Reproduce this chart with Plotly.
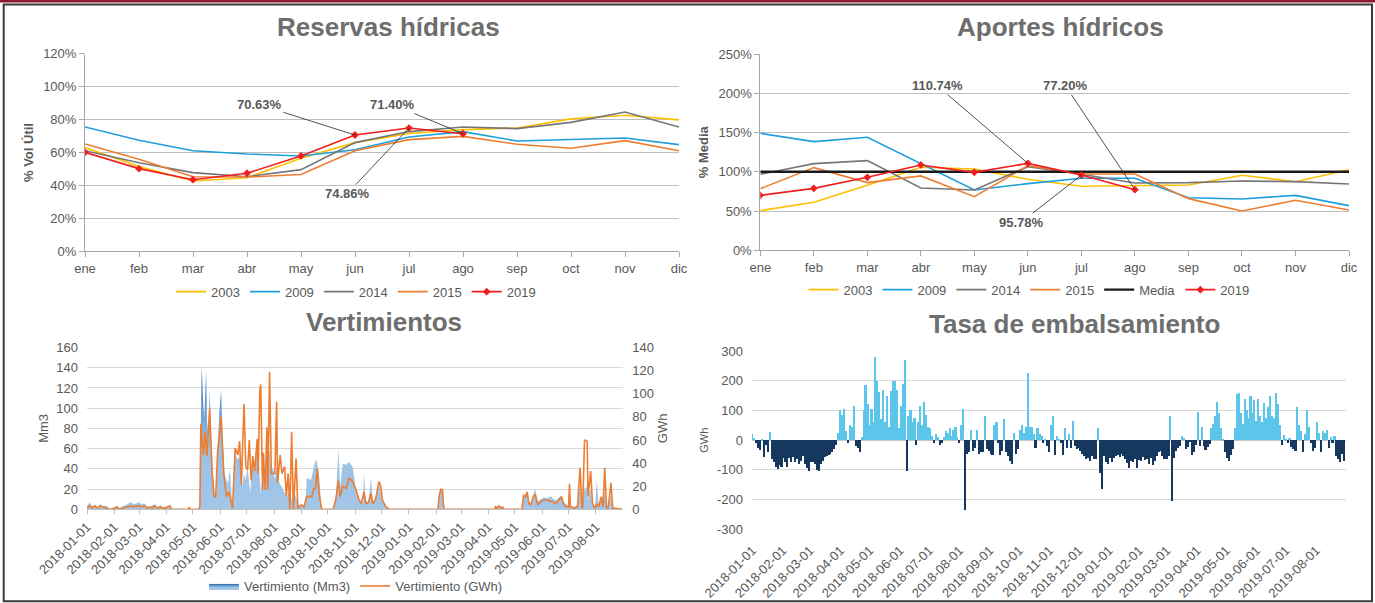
import plotly.graph_objects as go
import pandas as pd

W, H = 1375, 603
FONT = "Liberation Sans, Arial, sans-serif"
TXT = "#595959"
TITLE_C = "#6E6E6E"

# ---------------- data ----------------
meses = ["ene", "feb", "mar", "abr", "may", "jun", "jul", "ago", "sep", "oct", "nov", "dic"]

# Reservas hídricas (% Vol Útil)
res_2003 = [63.0, 51.5, 42.7, 44.7, 56.5, 66.0, 71.5, 73.9, 74.9, 80.4, 82.6, 79.8]
res_2009 = [75.5, 67.4, 61.1, 59.1, 57.9, 61.7, 69.4, 72.7, 67.0, 67.8, 68.8, 64.8]
res_2014 = [61.1, 53.8, 47.8, 45.3, 49.6, 66.0, 72.7, 75.5, 74.5, 78.3, 84.6, 75.5]
res_2015 = [65.2, 55.9, 45.3, 45.1, 46.6, 61.1, 67.8, 69.8, 65.0, 62.6, 67.2, 61.1]
res_2019 = [60.1, 50.2, 43.5, 47.4, 57.9, 70.63, 74.86, 71.40]

# Aportes hídricos (% Media)
apo_2003 = [50.5, 61.1, 82.8, 105.7, 103.6, 90.4, 81.5, 82.3, 83.2, 95.5, 87.4, 102.7]
apo_2009 = [149.0, 138.4, 143.9, 110.8, 76.8, 84.9, 91.7, 91.7, 67.0, 65.4, 70.0, 56.9]
apo_2014 = [96.8, 110.4, 114.2, 79.4, 76.8, 106.5, 96.8, 85.7, 86.2, 88.3, 87.4, 84.5]
apo_2015 = [78.5, 105.3, 86.2, 94.7, 68.3, 107.8, 97.2, 97.2, 65.8, 50.1, 63.7, 51.4]
apo_media = [100, 100, 100, 100, 100, 100, 100, 100, 100, 100, 100, 100]
apo_2019 = [70.0, 78.9, 93.0, 108.7, 99.3, 110.74, 95.78, 77.20]

# Vertimiento (Mm3): (fecha, valor)
vert_mm3_pts = [
    ("2018-01-01", 3), ("2018-01-04", 7), ("2018-01-07", 3), ("2018-01-10", 4), ("2018-01-13", 2),
    ("2018-01-16", 5), ("2018-01-19", 3), ("2018-01-23", 4), ("2018-01-26", 1), ("2018-01-29", 1),
    ("2018-02-01", 2), ("2018-02-04", 3), ("2018-02-07", 1), ("2018-02-10", 3), ("2018-02-14", 4),
    ("2018-02-17", 6), ("2018-02-20", 7), ("2018-02-23", 5), ("2018-02-26", 6),
    ("2018-03-01", 7), ("2018-03-04", 5), ("2018-03-07", 6), ("2018-03-10", 3), ("2018-03-13", 2),
    ("2018-03-16", 4), ("2018-03-19", 5), ("2018-03-22", 2), ("2018-03-25", 4), ("2018-03-28", 2),
    ("2018-03-31", 3), ("2018-04-03", 4), ("2018-04-05", 4), ("2018-04-07", 0), ("2018-04-26", 0),
    ("2018-04-27", 2), ("2018-04-28", 0), ("2018-05-08", 0), ("2018-05-09", 5), ("2018-05-10", 82),
    ("2018-05-11", 142), ("2018-05-13", 101), ("2018-05-14", 91), ("2018-05-16", 137), ("2018-05-17", 88),
    ("2018-05-19", 68), ("2018-05-20", 118), ("2018-05-22", 68), ("2018-05-23", 42), ("2018-05-25", 22),
    ("2018-05-26", 12), ("2018-05-28", 16), ("2018-05-29", 58), ("2018-05-31", 95), ("2018-06-02", 118),
    ("2018-06-04", 68), ("2018-06-06", 35), ("2018-06-08", 29), ("2018-06-10", 26), ("2018-06-12", 40),
    ("2018-06-14", 12), ("2018-06-16", 4), ("2018-06-18", 58), ("2018-06-20", 49), ("2018-06-22", 52),
    ("2018-06-25", 42), ("2018-06-26", 22), ("2018-06-28", 35), ("2018-06-30", 29), ("2018-07-02", 42),
    ("2018-07-05", 16), ("2018-07-07", 39), ("2018-07-10", 45), ("2018-07-13", 60), ("2018-07-15", 42),
    ("2018-07-17", 16), ("2018-07-20", 35), ("2018-07-22", 22), ("2018-07-24", 49), ("2018-07-27", 58),
    ("2018-07-29", 35), ("2018-07-31", 42), ("2018-08-02", 29), ("2018-08-04", 42), ("2018-08-07", 26),
    ("2018-08-10", 22), ("2018-08-13", 16), ("2018-08-16", 12), ("2018-08-19", 19), ("2018-08-21", 9),
    ("2018-08-24", 16), ("2018-08-27", 9), ("2018-08-30", 4), ("2018-09-03", 3), ("2018-09-06", 9),
    ("2018-09-07", 31), ("2018-09-12", 29), ("2018-09-16", 45), ("2018-09-18", 49), ("2018-09-21", 35),
    ("2018-09-23", 9), ("2018-09-24", 0), ("2018-10-07", 0), ("2018-10-10", 9), ("2018-10-13", 60),
    ("2018-10-15", 22), ("2018-10-18", 45), ("2018-10-22", 44), ("2018-10-25", 47), ("2018-10-29", 42),
    ("2018-11-02", 19), ("2018-11-06", 9), ("2018-11-10", 6), ("2018-11-11", 37), ("2018-11-13", 9),
    ("2018-11-16", 6), ("2018-11-19", 32), ("2018-11-21", 6), ("2018-11-24", 12), ("2018-11-26", 19),
    ("2018-11-28", 26), ("2018-11-30", 16), ("2018-12-02", 8), ("2018-12-06", 3), ("2018-12-10", 0),
    ("2019-01-02", 0), ("2019-01-03", 1), ("2019-01-04", 0), ("2019-02-03", 0), ("2019-02-04", 12),
    ("2019-02-06", 21), ("2019-02-08", 18), ("2019-02-09", 5), ("2019-02-10", 0), ("2019-04-08", 0),
    ("2019-04-09", 4), ("2019-04-11", 2), ("2019-04-13", 4), ("2019-04-15", 2), ("2019-04-17", 3),
    ("2019-04-19", 0), ("2019-05-09", 0), ("2019-05-11", 14), ("2019-05-13", 12), ("2019-05-15", 16),
    ("2019-05-17", 8), ("2019-05-19", 6), ("2019-05-22", 15), ("2019-05-24", 20), ("2019-05-27", 8),
    ("2019-05-31", 10), ("2019-06-03", 12), ("2019-06-07", 11), ("2019-06-11", 13), ("2019-06-14", 10),
    ("2019-06-17", 9), ("2019-06-20", 12), ("2019-06-23", 13), ("2019-06-25", 8), ("2019-06-28", 5),
    ("2019-07-01", 4), ("2019-07-02", 18), ("2019-07-03", 4), ("2019-07-05", 3), ("2019-07-07", 2),
    ("2019-07-11", 4), ("2019-07-14", 25), ("2019-07-16", 4), ("2019-07-17", 3), ("2019-07-19", 22),
    ("2019-07-20", 20), ("2019-07-22", 24), ("2019-07-23", 8), ("2019-07-25", 20), ("2019-07-26", 18),
    ("2019-07-28", 4), ("2019-07-31", 2), ("2019-08-02", 29), ("2019-08-04", 5), ("2019-08-07", 12),
    ("2019-08-09", 3), ("2019-08-11", 18), ("2019-08-13", 2), ("2019-08-15", 3), ("2019-08-18", 15),
    ("2019-08-20", 2), ("2019-08-31", 0),
]

# Vertimiento (GWh): (fecha, valor)
vert_gwh_pts = [
    ("2018-01-01", 1), ("2018-01-04", 3), ("2018-01-07", 1), ("2018-01-10", 3), ("2018-01-13", 1),
    ("2018-01-16", 3), ("2018-01-19", 2), ("2018-01-23", 1), ("2018-01-26", 0), ("2018-01-29", 0),
    ("2018-02-01", 1), ("2018-02-04", 2), ("2018-02-07", 0), ("2018-02-10", 1), ("2018-02-14", 2),
    ("2018-02-17", 2), ("2018-02-20", 3), ("2018-02-23", 2), ("2018-02-26", 3),
    ("2018-03-01", 3), ("2018-03-04", 2), ("2018-03-07", 3), ("2018-03-10", 1), ("2018-03-13", 2),
    ("2018-03-16", 1), ("2018-03-19", 3), ("2018-03-22", 1), ("2018-03-25", 2), ("2018-03-28", 1),
    ("2018-03-31", 1), ("2018-04-03", 2), ("2018-04-05", 3), ("2018-04-07", 0), ("2018-04-26", 0),
    ("2018-04-27", 2), ("2018-04-28", 0), ("2018-05-08", 0), ("2018-05-09", 3), ("2018-05-10", 74),
    ("2018-05-13", 47), ("2018-05-15", 67), ("2018-05-17", 46), ("2018-05-20", 87), ("2018-05-23", 31),
    ("2018-05-25", 11), ("2018-05-27", 11), ("2018-05-29", 49), ("2018-06-02", 80), ("2018-06-05", 31),
    ("2018-06-08", 11), ("2018-06-11", 15), ("2018-06-13", 9), ("2018-06-15", 1), ("2018-06-18", 53),
    ("2018-06-21", 47), ("2018-06-23", 59), ("2018-06-25", 21), ("2018-06-28", 91), ("2018-06-30", 37),
    ("2018-07-02", 34), ("2018-07-04", 60), ("2018-07-06", 25), ("2018-07-08", 46), ("2018-07-10", 33),
    ("2018-07-13", 61), ("2018-07-14", 31), ("2018-07-16", 104), ("2018-07-17", 108), ("2018-07-19", 17),
    ("2018-07-20", 49), ("2018-07-22", 17), ("2018-07-24", 71), ("2018-07-25", 17), ("2018-07-27", 119),
    ("2018-07-29", 31), ("2018-07-31", 31), ("2018-08-02", 31), ("2018-08-04", 93), ("2018-08-05", 23),
    ("2018-08-08", 47), ("2018-08-10", 31), ("2018-08-13", 37), ("2018-08-15", 11), ("2018-08-17", 31),
    ("2018-08-19", 0), ("2018-08-21", 67), ("2018-08-23", 0), ("2018-08-26", 44), ("2018-08-28", 1),
    ("2018-08-30", 2), ("2018-09-01", 4), ("2018-09-04", 2), ("2018-09-07", 11), ("2018-09-13", 11),
    ("2018-09-15", 18), ("2018-09-17", 18), ("2018-09-19", 35), ("2018-09-21", 14), ("2018-09-24", 0),
    ("2018-10-07", 0), ("2018-10-10", 8), ("2018-10-13", 25), ("2018-10-15", 11), ("2018-10-18", 20),
    ("2018-10-22", 18), ("2018-10-25", 27), ("2018-10-29", 24), ("2018-11-02", 17), ("2018-11-05", 9),
    ("2018-11-08", 5), ("2018-11-11", 15), ("2018-11-13", 5), ("2018-11-16", 6), ("2018-11-19", 14),
    ("2018-11-21", 5), ("2018-11-24", 8), ("2018-11-26", 15), ("2018-11-28", 24), ("2018-11-30", 20),
    ("2018-12-02", 8), ("2018-12-06", 2), ("2018-12-10", 0), ("2019-02-03", 0), ("2019-02-04", 11),
    ("2019-02-06", 17), ("2019-02-08", 17), ("2019-02-09", 4), ("2019-02-10", 0), ("2019-04-08", 0),
    ("2019-04-09", 2), ("2019-04-11", 1), ("2019-04-13", 3), ("2019-04-15", 1), ("2019-04-17", 2),
    ("2019-04-19", 0), ("2019-05-09", 0), ("2019-05-11", 12), ("2019-05-13", 11), ("2019-05-15", 15),
    ("2019-05-17", 5), ("2019-05-19", 4), ("2019-05-22", 11), ("2019-05-24", 13), ("2019-05-27", 4),
    ("2019-05-31", 7), ("2019-06-03", 8), ("2019-06-07", 8), ("2019-06-11", 7), ("2019-06-14", 6),
    ("2019-06-17", 5), ("2019-06-20", 8), ("2019-06-23", 11), ("2019-06-25", 5), ("2019-06-28", 2),
    ("2019-07-01", 2), ("2019-07-02", 22), ("2019-07-03", 2), ("2019-07-05", 2), ("2019-07-07", 1),
    ("2019-07-11", 2), ("2019-07-14", 36), ("2019-07-16", 2), ("2019-07-17", 1), ("2019-07-19", 59),
    ("2019-07-20", 60), ("2019-07-22", 59), ("2019-07-23", 11), ("2019-07-25", 31), ("2019-07-26", 33),
    ("2019-07-28", 5), ("2019-07-31", 1), ("2019-08-02", 5), ("2019-08-04", 2), ("2019-08-07", 11),
    ("2019-08-09", 2), ("2019-08-11", 36), ("2019-08-13", 1), ("2019-08-15", 2), ("2019-08-18", 23),
    ("2019-08-20", 1), ("2019-08-31", 0),
]

# Tasa de embalsamiento (GWh), one value every 2 days from 2018-01-01
tasa_inicio = "2018-01-01"
tasa_paso = "2D"
tasa = [
    22, 8, -10, -28, -34, 5, -58, -15, -40, 28,
    -62, -73, -92, -98, -85, -90, -60, -75, -92, -60,
    -75, -58, -75, -65, -80, -70, -55, -80, -95, -105,
    -75, -72, -80, -100, -105, -80, -70, -58, -55, -50,
    -45, -40, -30, -15, 25, 102, 85, 105, 30, -10,
    50, 45, 115, -20, -25, -40, 10, 100, 185, 120,
    50, 105, 60, 280, 200, 162, 70, 170, 60, 150,
    45, 165, 200, 200, 170, 40, 115, 190, 270, -105,
    80, 100, 60, 75, -15, 60, 115, 50, 127, 85,
    45, 40, 15, -10, 22, 10, -15, -10, 10, 30,
    25, 40, 15, 35, 45, 10, -10, 50, 105, -235,
    -45, -40, 35, -35, -25, 35, -45, -40, -40, 80,
    -30, -35, -45, -50, 50, 60, -10, -50, -35, 70,
    -40, -55, -70, -80, 25, -45, -30, 35, 50, 25,
    45, 225, 45, 45, 20, -25, 40, 20, 15, -10,
    5, -20, -40, 50, 80, -50, 15, 5, -10, -50,
    40, -25, 20, -25, 65, -20, -30, -25, -35, -45,
    -55, -62, -60, -70, -55, -65, -65, 40, -110, -165,
    -55, -75, -80, -60, -72, -60, -55, -50, -58, -45,
    -52, -65, -78, -95, -70, -75, -65, -95, -68, -70,
    -58, -68, -62, -80, -60, -85, -70, -52, -40, -38,
    -55, -65, -62, -55, 80, -205, -60, -38, -28, -20,
    15, 8, -30, -22, -5, -50, -40, -15, 95, -20,
    45, -20, -32, -22, -12, 40, 55, 80, 130, 90,
    40, 5, -40, -60, -70, -50, -30, 40, 155, 160,
    90, 55, 140, 100, 75, 150, 90, 135, 65, 140,
    80, 60, 125, 75, 110, 150, 80, 75, 160, 120,
    50, -15, 18, 5, -8, 8, -22, -30, -35, 110,
    50, 30, -40, 20, 100, 45, -10, -35, -25, 60,
    25, -40, 30, 25, 35, -25, 10, -10, 15, -55,
    -65, -75, -45, -70,
]

# label offsets (pixels) for value call-outs
res_labels = [(5, -95.6, -30.3), (7, -70.3, -29.2), (6, -61.6, 65.5)]
apo_labels = [(5, -90.8, -77.7), (7, -69.6, -104.0), (6, -60.3, 47.2)]

# ---------------- helpers ----------------
def fx(px):
    return px / W


def fy(py):
    return 1 - py / H


mm3_x = [d for d, v in vert_mm3_pts]
mm3_y = [v for d, v in vert_mm3_pts]
gwh_x = [d for d, v in vert_gwh_pts]
gwh_y = [v for d, v in vert_gwh_pts]
tasa_x = pd.date_range(tasa_inicio, periods=len(tasa), freq=tasa_paso)
tasa_col = ["#5BC5EA" if v >= 0 else "#16375E" for v in tasa]

C2003, C2009, C2014, C2015, C2019 = "#FFC000", "#1E9FDC", "#767676", "#ED7D31", "#F01E1E"
xm = list(range(12))

fig = go.Figure()

# ---- Reservas hídricas ----
for name, vals, col in [("2003", res_2003, C2003), ("2009", res_2009, C2009),
                        ("2014", res_2014, C2014), ("2015", res_2015, C2015)]:
    fig.add_trace(go.Scatter(x=xm[:len(vals)], y=vals, name=name, mode="lines",
                             line=dict(color=col, width=1.6), xaxis="x", yaxis="y",
                             legend="legend"))
fig.add_trace(go.Scatter(x=xm[:len(res_2019)], y=res_2019, name="2019", mode="lines+markers",
                         line=dict(color=C2019, width=1.6),
                         marker=dict(symbol="diamond", size=6, color=C2019),
                         xaxis="x", yaxis="y", legend="legend"))

# ---- Aportes hídricos ----
for name, vals, col, w in [("2003", apo_2003, C2003, 1.6), ("2009", apo_2009, C2009, 1.6),
                           ("2014", apo_2014, C2014, 1.6), ("2015", apo_2015, C2015, 1.6),
                           ("Media", apo_media, "#1A1A1A", 2.4)]:
    fig.add_trace(go.Scatter(x=xm[:len(vals)], y=vals, name=name, mode="lines",
                             line=dict(color=col, width=w), xaxis="x2", yaxis="y2",
                             legend="legend2"))
fig.add_trace(go.Scatter(x=xm[:len(apo_2019)], y=apo_2019, name="2019", mode="lines+markers",
                         line=dict(color=C2019, width=1.6),
                         marker=dict(symbol="diamond", size=6, color=C2019),
                         xaxis="x2", yaxis="y2", legend="legend2"))

# ---- Vertimientos ----
fig.add_trace(go.Scatter(x=mm3_x, y=mm3_y, name="Vertimiento (Mm3)", mode="lines",
                         line=dict(width=0, color="#9DC3E6"), fill="tozeroy",
                         fillgradient=dict(type="vertical", start=0, stop=145,
                                           colorscale=[[0, "#A3C6E8"], [0.45, "#9AC0E5"],
                                                       [1, "#2B68B0"]]),
                         xaxis="x3", yaxis="y3", legend="legend3"))
fig.add_trace(go.Scatter(x=gwh_x, y=gwh_y, name="Vertimiento (GWh)", mode="lines",
                         line=dict(color="#ED7D31", width=1.6), xaxis="x3", yaxis="y4",
                         legend="legend3"))

# ---- Tasa de embalsamiento ----
fig.add_trace(go.Bar(x=tasa_x, y=tasa, marker=dict(color=tasa_col, line=dict(width=0)),
                     width=2 * 86400000 * 0.85, showlegend=False, xaxis="x4", yaxis="y5"))

# ---------------- axes ----------------
tick_font = dict(family=FONT, size=13, color=TXT)
top_common = dict(showline=True, linecolor="#A6A6A6", linewidth=1, ticks="outside",
                  ticklen=5, tickcolor="#A6A6A6", tickfont=tick_font, zeroline=False,
                  automargin=False)

fig.update_layout(
    xaxis=dict(domain=[fx(85), fx(679)], range=[0, 11], tickvals=xm, ticktext=meses,
               showgrid=False, anchor="y", **top_common),
    yaxis=dict(domain=[fy(251.3), fy(53.7)], range=[0, 120], dtick=20, ticksuffix="%",
               showgrid=True, gridcolor="#BFBFBF", anchor="x",
               title=dict(text="<b>% Vol Útil</b>", font=dict(family=FONT, size=13, color=TXT),
                          standoff=6), **top_common),
    xaxis2=dict(domain=[fx(760.3), fx(1349)], range=[0, 11], tickvals=xm, ticktext=meses,
                showgrid=False, anchor="y2", **top_common),
    yaxis2=dict(domain=[fy(250.3), fy(54)], range=[0, 250], dtick=50, ticksuffix="%",
                showgrid=True, gridcolor="#BFBFBF", anchor="x2",
                title=dict(text="<b>% Media</b>", font=dict(family=FONT, size=13, color=TXT),
                           standoff=6), **top_common),
)

month_ticks = pd.date_range("2018-01-01", "2019-08-01", freq="MS")
month_text = [d.strftime("%Y-%m-%d") for d in month_ticks]

fig.update_layout(
    xaxis3=dict(domain=[fx(87), fx(623.3)], type="date", range=["2018-01-01", "2019-09-01"],
                tickvals=month_ticks, ticktext=month_text, tickangle=-45, tickfont=tick_font,
                showline=True, linecolor="#BFBFBF", ticks="outside", ticklen=4,
                tickcolor="#BFBFBF", showgrid=False, zeroline=False, anchor="y3",
                automargin=False),
    yaxis3=dict(domain=[fy(509.3), fy(347.5)], range=[0, 160], dtick=20, tickfont=tick_font,
                showgrid=True, gridcolor="#D9D9D9", zeroline=False, showline=False,
                ticklabelstandoff=8, anchor="x3", automargin=False,
                title=dict(text="Mm3", font=dict(family=FONT, size=13, color=TXT), standoff=4)),
    yaxis4=dict(overlaying="y3", side="right", range=[0, 140], dtick=20, tickfont=tick_font,
                showgrid=False, zeroline=False, showline=False, anchor="x3",
                ticklabelstandoff=8, automargin=False,
                title=dict(text="GWh", font=dict(family=FONT, size=13, color=TXT), standoff=4)),
    xaxis4=dict(domain=[fx(752), fx(1346)], type="date",
                range=["2017-12-31 12:00", "2019-08-31 12:00"],
                tickvals=month_ticks, ticktext=month_text, tickangle=-45, tickfont=tick_font,
                showline=False, ticks="", showgrid=False, zeroline=False, anchor="y5",
                ticklabelstandoff=10, automargin=False),
    yaxis5=dict(domain=[fy(529.3), fy(351)], range=[-300, 300],
                tickvals=[-300, -200, -100, 0, 100, 200, 300],
                ticktext=["-300", "-200", "-100", "0", "100", "200", "300"],
                tickfont=tick_font, showgrid=True, gridcolor="#D9D9D9", zeroline=True,
                zerolinecolor="#C8C8C8", zerolinewidth=1, showline=False,
                ticklabelstandoff=8, anchor="x4", automargin=False,
                title=dict(text="GWh", font=dict(family=FONT, size=11, color=TXT), standoff=6)),
    bargap=0,
)

# ---------------- legends ----------------
leg_common = dict(orientation="h", xanchor="center", yanchor="middle",
                  font=dict(family=FONT, size=13, color=TXT), bgcolor="rgba(0,0,0,0)",
                  itemwidth=30, tracegroupgap=0)
fig.update_layout(
    legend=dict(x=fx(356), y=fy(291.7), **leg_common),
    legend2=dict(x=fx(1029), y=fy(289.7), **leg_common),
    legend3=dict(x=fx(356), y=fy(586), **leg_common),
)

# ---------------- titles & call-outs ----------------
ann = []
for text, cx, cy in [("Reservas hídricas", 389, 27.5), ("Aportes hídricos", 1060, 27.5),
                     ("Vertimientos", 384, 322.5), ("Tasa de embalsamiento", 1074, 324)]:
    ann.append(dict(text="<b>" + text + "</b>", x=fx(cx), y=fy(cy), xref="paper", yref="paper",
                    xanchor="center", yanchor="middle", showarrow=False,
                    font=dict(family=FONT, size=26, color=TITLE_C)))

for idx, ax, ay in res_labels:
    ann.append(dict(x=idx, y=res_2019[idx], xref="x", yref="y",
                    text="<b>%.2f%%</b>" % res_2019[idx], showarrow=True, arrowhead=0,
                    arrowwidth=0.8, arrowcolor="#262626", ax=ax, ay=ay,
                    font=dict(family=FONT, size=13, color=TXT)))
for idx, ax, ay in apo_labels:
    ann.append(dict(x=idx, y=apo_2019[idx], xref="x2", yref="y2",
                    text="<b>%.2f%%</b>" % apo_2019[idx], showarrow=True, arrowhead=0,
                    arrowwidth=0.8, arrowcolor="#262626", ax=ax, ay=ay,
                    font=dict(family=FONT, size=13, color=TXT)))

# frame
shapes = [
    dict(type="rect", xref="paper", yref="paper", x0=0, x1=1, y0=fy(2.6), y1=1,
         fillcolor="#8B1A2E", line=dict(width=0), layer="above"),
    dict(type="rect", xref="paper", yref="paper", x0=fx(3.7), x1=fx(1372), y0=fy(601.3),
         y1=fy(4.6), line=dict(color="#3A3A3A", width=2), fillcolor="rgba(0,0,0,0)",
         layer="above"),
]

fig.update_layout(
    template="none",
    width=W, height=H, margin=dict(l=0, r=0, t=0, b=0, pad=0, autoexpand=False),
    paper_bgcolor="white", plot_bgcolor="white",
    font=dict(family=FONT, color=TXT),
    annotations=ann, shapes=shapes,
)

fig.write_html("out.html", config={"displayModeBar": False},
               post_script="document.body.style.margin='0';document.body.style.overflow='hidden';")
